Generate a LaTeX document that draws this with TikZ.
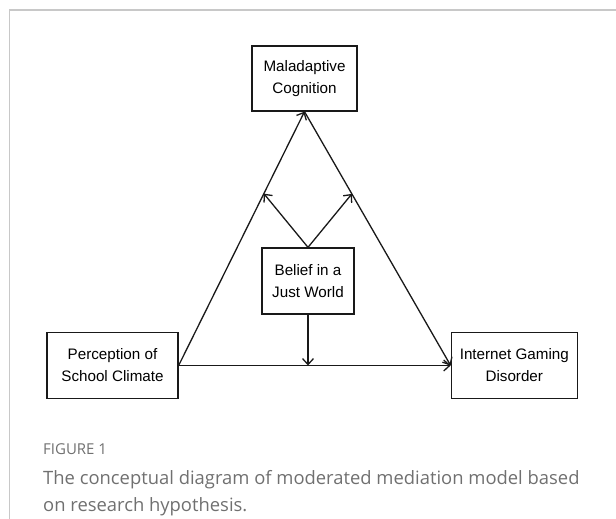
\documentclass[tikz,border=0pt]{standalone}
\usepackage{fontspec}
\setmainfont{Liberation Sans}
\newfontfamily\capfont{Open Sans}
\usetikzlibrary{positioning,arrows.meta}

\definecolor{capgray}{HTML}{707070}
\definecolor{framegray}{HTML}{C8C8C8}

\tikzset{
    var/.style={draw=black!90, line width=1.3pt, align=center, inner sep=0pt,
        minimum height=66pt, font=\fontsize{15.2}{22}\selectfont},
    link/.style={draw=black!90, line width=1.3pt, -{Straight Barb[length=6pt,width=11pt]}},
}

\begin{document}
\begin{tikzpicture}[x=1pt, y=1pt]
            \useasboundingbox (0,0) rectangle (616,519);
            \draw [framegray, line width=1.5pt] (9.5,0) -- (9.5,509) -- (616,509);

            \node [var, minimum width=131pt] (perc) at (112.5,153.5) {Perception of\\School Climate};
            \node [var, minimum width=126pt, right=272pt of perc] (igd) {Internet Gaming\\Disorder};
            \node [var, minimum width=105pt, minimum height=65pt] (mal) at (304.5,440.5) {Maladaptive\\Cognition};
            \node [var, minimum width=92pt] (bjw) at (308,238) {Belief in a\\Just World};

            \draw [link] (perc.east) -- (mal.south) coordinate [pos=0.677] (ma);
            \draw [link] (mal.south) -- (igd.west) coordinate [pos=0.324] (mb);
            \draw [link] (perc.east) -- (igd.west);

            \coordinate (mc) at (bjw.south |- perc.east);
            \draw [link] (bjw.north) -- (ma);
            \draw [link] (bjw.north) -- (mb);
            \draw [link] (bjw.south) -- (mc);

            \node [anchor=west, inner sep=0pt, text=capgray, font=\capfont\fontsize{15}{18}\selectfont] (fig) at (43,70) {FIGURE 1};
            \node [anchor=west, inner sep=0pt, align=left, text=capgray, font=\capfont\fontsize{18.4}{27}\selectfont] (cap) at (43,26)
                {The conceptual diagram of moderated mediation model based\\on research hypothesis.};
        \end{tikzpicture}
\end{document}
